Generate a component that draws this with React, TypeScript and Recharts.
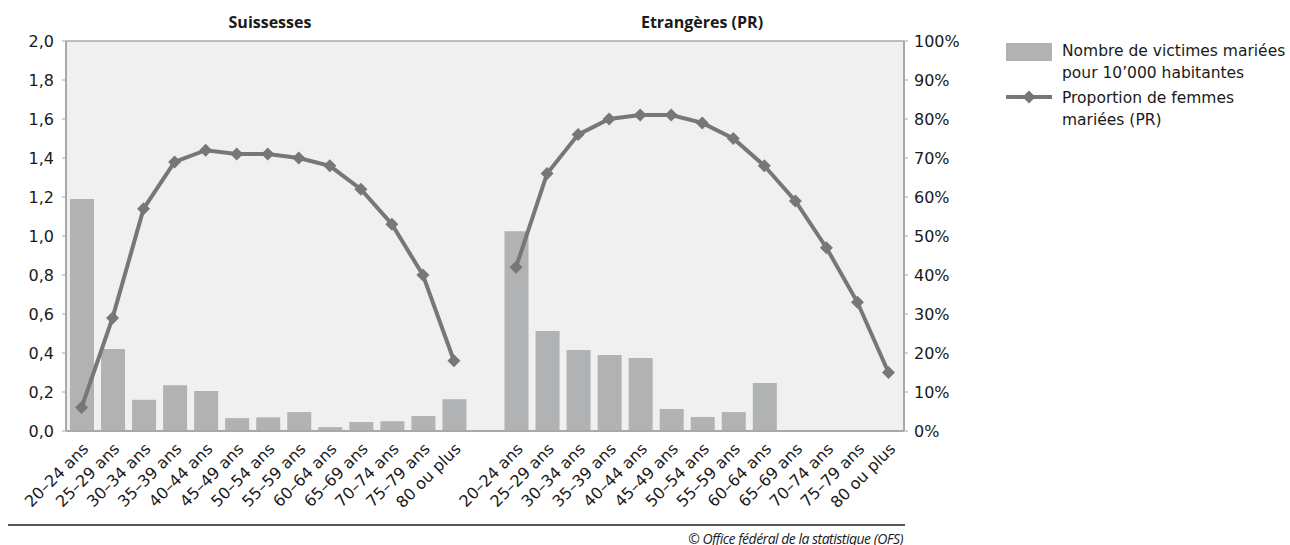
import React from "react";
import {
  ComposedChart,
  Bar,
  Line,
  XAxis,
  YAxis,
  CartesianGrid,
} from "recharts";

const ageGroups = [
  "20–24 ans",
  "25–29 ans",
  "30–34 ans",
  "35–39 ans",
  "40–44 ans",
  "45–49 ans",
  "50–54 ans",
  "55–59 ans",
  "60–64 ans",
  "65–69 ans",
  "70–74 ans",
  "75–79 ans",
  "80 ou plus",
];

const victimesSuisses = [1.19, 0.42, 0.16, 0.235, 0.205, 0.066, 0.07, 0.097, 0.02, 0.046, 0.05, 0.077, 0.163];
const victimesEtrangeres = [1.025, 0.513, 0.415, 0.39, 0.374, 0.113, 0.072, 0.097, 0.246, null, null, null, null];
const proportionSuisses = [6, 29, 57, 69, 72, 71, 71, 70, 68, 62, 53, 40, 18];
const proportionEtrangeres = [42, 66, 76, 80, 81, 81, 79, 75, 68, 59, 47, 33, 15];

const leftTicks = [0, 0.2, 0.4, 0.6, 0.8, 1.0, 1.2, 1.4, 1.6, 1.8, 2.0];
const rightTicks = [0, 10, 20, 30, 40, 50, 60, 70, 80, 90, 100];

const titles = ["Suissesses", "Etrangères (PR)"];
const legendBar = ["Nombre de victimes mariées", "pour 10’000 habitantes"];
const legendLine = ["Proportion de femmes", "mariées (PR)"];
const sourceText = "© Office fédéral de la statistique (OFS)";

type Row = { cat: string; victimes: number | null; proportion: number | null };

const data: Row[] = [
  ...ageGroups.map((c, i) => ({ cat: c, victimes: victimesSuisses[i], proportion: proportionSuisses[i] })),
  { cat: "", victimes: null, proportion: null },
  ...ageGroups.map((c, i) => ({ cat: c, victimes: victimesEtrangeres[i], proportion: proportionEtrangeres[i] })),
];

const FONT = "'DejaVu Sans', sans-serif";
const TITLE_FONT = "'Open Sans', sans-serif";
const BAR = "#b1b2b4";
const LINE = "#777777";
const GRID = "#a8a8a8";
const TEXT = "#1a1a1a";

const Diamond = (props: any) => {
  const { cx, cy, index } = props;
  if (cx == null || cy == null || props.value == null) return <g key={`d${index}`} />;
  const s = 6.5;
  return (
    <path
      key={`d${index}`}
      d={`M${cx},${cy - s} L${cx + s},${cy} L${cx},${cy + s} L${cx - s},${cy} Z`}
      fill={LINE}
    />
  );
};

const XTick = (props: any) => {
  const { x, y, payload } = props;
  const ax = x + 4;
  const ay = y + 13;
  return (
    <text
      x={ax}
      y={ay}
      dy="0.35em"
      textAnchor="end"
      transform={`rotate(-45, ${ax}, ${ay})`}
      fontSize={16}
      fontFamily={FONT}
      fill={TEXT}
    >
      {payload.value}
    </text>
  );
};

export default function App() {
  return (
    <div style={{ position: "absolute", left: 0, top: 0, width: 1290, height: 545, background: "#fff", fontFamily: FONT, overflow: "hidden" }}>
      <ComposedChart
        width={1290}
        height={545}
        data={data}
        margin={{ top: 41, right: 0, bottom: 0, left: 0 }}
      >
        <CartesianGrid horizontal vertical={false} stroke={GRID} strokeWidth={1.5} fill="#eff0ef" />
        <XAxis
          dataKey="cat"
          height={114}
          tick={<XTick />}
          tickLine={false}
          tickSize={0}
          interval={0}
          axisLine={{ stroke: GRID, strokeWidth: 2 }}
        />
        <YAxis
          yAxisId="left"
          orientation="left"
          width={66}
          domain={[0, 2]}
          ticks={leftTicks}
          tickFormatter={(v: number) => v.toFixed(1).replace(".", ",")}
          tickSize={4}
          tickMargin={8}
          tick={{ fontSize: 16, fontFamily: FONT, fill: TEXT }}
          axisLine={{ stroke: GRID, strokeWidth: 2 }}
          tickLine={{ stroke: GRID }}
          interval={0}
        />
        <YAxis
          yAxisId="right"
          orientation="right"
          width={386}
          domain={[0, 100]}
          ticks={rightTicks}
          tickFormatter={(v: number) => `${v}%`}
          tickSize={4}
          tickMargin={6}
          tick={{ fontSize: 16, fontFamily: FONT, fill: TEXT, textAnchor: "start" }}
          axisLine={{ stroke: GRID, strokeWidth: 2 }}
          tickLine={{ stroke: GRID }}
          interval={0}
        />
        <Bar yAxisId="left" dataKey="victimes" fill={BAR} barSize={24} isAnimationActive={false} />
        <Line
          yAxisId="right"
          dataKey="proportion"
          stroke={LINE}
          strokeWidth={4}
          dot={<Diamond />}
          activeDot={false}
          connectNulls={false}
          isAnimationActive={false}
        />
      </ComposedChart>

      <div style={{ position: "absolute", left: 170, width: 200, top: 11, textAlign: "center", fontWeight: 700, fontSize: 16, fontFamily: TITLE_FONT, color: TEXT }}>
        {titles[0]}
      </div>
      <div style={{ position: "absolute", left: 602, width: 200, top: 11, textAlign: "center", fontWeight: 700, fontSize: 16, fontFamily: TITLE_FONT, color: TEXT }}>
        {titles[1]}
      </div>

      <div style={{ position: "absolute", left: 1006, top: 43, width: 46, height: 18, background: BAR }} />
      <div style={{ position: "absolute", left: 1062, top: 40, fontSize: 15.5, lineHeight: "22px", color: TEXT, whiteSpace: "nowrap" }}>
        <div>{legendBar[0]}</div>
        <div>{legendBar[1]}</div>
      </div>
      <svg style={{ position: "absolute", left: 1004, top: 87 }} width={50} height={20}>
        <line x1={2} y1={10} x2={48} y2={10} stroke={LINE} strokeWidth={4} />
        <path d="M25,3.5 L31.5,10 L25,16.5 L18.5,10 Z" fill={LINE} />
      </svg>
      <div style={{ position: "absolute", left: 1062, top: 87, fontSize: 15.5, lineHeight: "22px", color: TEXT, whiteSpace: "nowrap" }}>
        <div>{legendLine[0]}</div>
        <div>{legendLine[1]}</div>
      </div>

      <div style={{ position: "absolute", left: 8, top: 524, width: 897, height: 2, background: "#555" }} />
      <div style={{ position: "absolute", right: 1290 - 903, top: 530, fontSize: 14, fontStyle: "italic", fontFamily: TITLE_FONT, letterSpacing: -0.5, color: TEXT, whiteSpace: "nowrap", lineHeight: "18px" }}>
        {sourceText}
      </div>
    </div>
  );
}
